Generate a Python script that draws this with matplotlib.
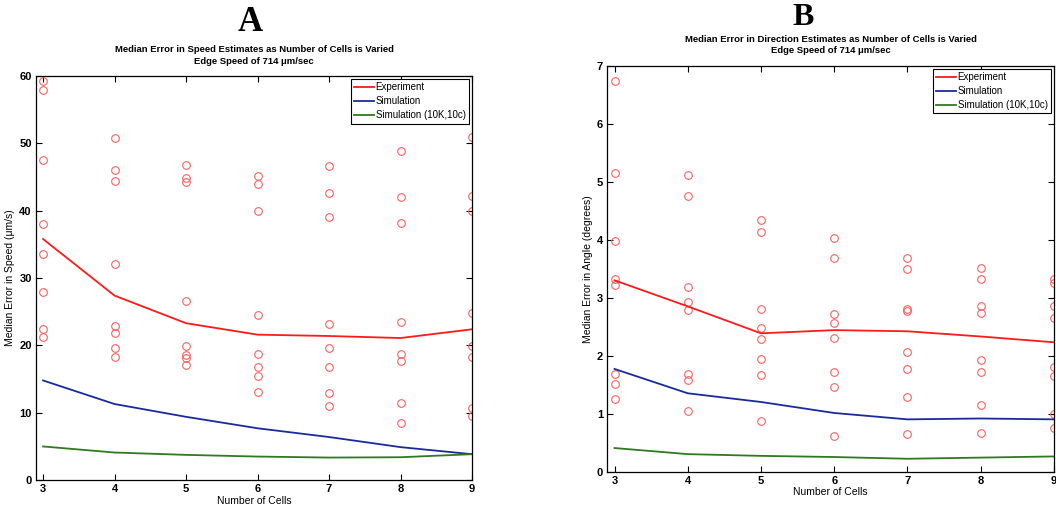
import matplotlib
matplotlib.use("Agg")
import matplotlib.pyplot as plt

plt.rcParams['font.family'] = ['Liberation Sans', 'DejaVu Sans']

cells = [3, 4, 5, 6, 7, 8, 9]

# Panel A: speed error (um/s)
speed_exp = [35.8, 27.4, 23.3, 21.6, 21.4, 21.1, 22.4]
speed_sim = [14.8, 11.3, 9.4, 7.7, 6.4, 4.9, 3.85]
speed_sim10k = [5.0, 4.1, 3.75, 3.5, 3.35, 3.4, 3.85]
speed_pts = {
    3: [59.2, 58.0, 47.5, 38.1, 33.6, 28.0, 22.5, 21.3],
    4: [50.8, 46.1, 44.4, 32.1, 22.9, 21.85, 19.65, 18.35],
    5: [46.8, 44.8, 44.2, 26.55, 19.85, 18.6, 18.1, 17.1],
    6: [45.2, 43.9, 40.0, 24.45, 18.7, 16.85, 15.45, 13.1],
    7: [46.6, 42.6, 39.1, 23.15, 19.6, 16.75, 12.95, 11.05],
    8: [48.9, 42.1, 38.2, 23.5, 18.75, 17.75, 11.45, 8.55],
    9: [50.9, 42.2, 40.0, 24.85, 19.9, 18.25, 10.7, 9.45],
}

# Panel B: direction error (degrees)
angle_exp = [3.30, 2.85, 2.385, 2.44, 2.42, 2.33, 2.23]
angle_sim = [1.77, 1.35, 1.20, 1.01, 0.90, 0.915, 0.90]
angle_sim10k = [0.405, 0.30, 0.27, 0.25, 0.22, 0.24, 0.26]
angle_pts = {
    3: [6.74, 5.15, 3.98, 3.32, 3.22, 1.68, 1.51, 1.26],
    4: [5.11, 4.75, 3.18, 2.92, 2.79, 1.68, 1.58, 1.05],
    5: [4.34, 4.13, 2.81, 2.48, 2.28, 1.95, 1.66, 0.88],
    6: [4.03, 3.68, 2.72, 2.57, 2.30, 1.71, 1.46, 0.62],
    7: [3.69, 3.50, 2.81, 2.77, 2.06, 1.77, 1.29, 0.65],
    8: [3.52, 3.33, 2.85, 2.73, 1.92, 1.72, 1.14, 0.67],
    9: [3.33, 3.26, 2.85, 2.65, 1.81, 1.65, 0.99, 0.75],
}

RED = '#ff1a1a'
BLUE = '#1a2a9c'
GREEN = '#2f7a1f'
PT = '#ff6060'

fig = plt.figure(figsize=(10.56, 5.07), dpi=100)
axA = fig.add_axes([0.034, 0.053, 0.413, 0.797])
axB = fig.add_axes([0.575, 0.070, 0.423, 0.800])


def draw(ax, pts, exp, sim, sim10k, ymax, ylabel):
    for x, vals in pts.items():
        ax.plot([x] * len(vals), vals, 'o', mfc='none', mec=PT, ms=5.5, mew=0.8)
    ax.plot(cells, exp, color=RED, lw=1.3, label='Experiment')
    ax.plot(cells, sim, color=BLUE, lw=1.3, label='Simulation')
    ax.plot(cells, sim10k, color=GREEN, lw=1.3, label='Simulation (10K,10c)')
    ax.set_xlim(2.9, 9)
    ax.set_ylim(0, ymax)
    ax.set_xticks(cells)
    ax.tick_params(direction='in', top=True, right=True, length=4, width=0.8,
                   labelsize=8, pad=3)
    for lab in ax.get_xticklabels() + ax.get_yticklabels():
        lab.set_fontweight('bold')
    ax.set_xlabel('Number of Cells', fontsize=7.5, labelpad=1)
    ax.set_ylabel(ylabel, fontsize=7.5, labelpad=3)
    for s in ax.spines.values():
        s.set_linewidth(0.9)
    leg = ax.legend(loc='upper right', fontsize=7, frameon=True, fancybox=False,
                    framealpha=1, edgecolor='black', handlelength=2.0,
                    handletextpad=0.2, borderpad=0.35, labelspacing=0.4,
                    borderaxespad=0.3)
    leg.get_frame().set_linewidth(0.8)


draw(axA, speed_pts, speed_exp, speed_sim, speed_sim10k, 60,
     'Median Error in Speed (\u03bcm/s)')
draw(axB, angle_pts, angle_exp, angle_sim, angle_sim10k, 7,
     'Median Error in Angle (degrees)')

axA.set_title('Median Error in Speed Estimates as Number of Cells is Varied\n'
              'Edge Speed of 714 \u03bcm/sec', fontsize=6.8, fontweight='bold',
              pad=9, linespacing=1.35)
axB.set_title('Median Error in Direction Estimates as Number of Cells is Varied\n'
              'Edge Speed of 714 \u03bcm/sec', fontsize=6.8, fontweight='bold',
              pad=9, linespacing=1.35)

fig.text(0.237, 0.955, 'A', fontsize=25, fontweight='bold',
         family='Liberation Serif', ha='center', va='center')
fig.text(0.761, 0.965, 'B', fontsize=23, fontweight='bold',
         family='Liberation Serif', ha='center', va='center')

fig.savefig('out.png', dpi=100)
